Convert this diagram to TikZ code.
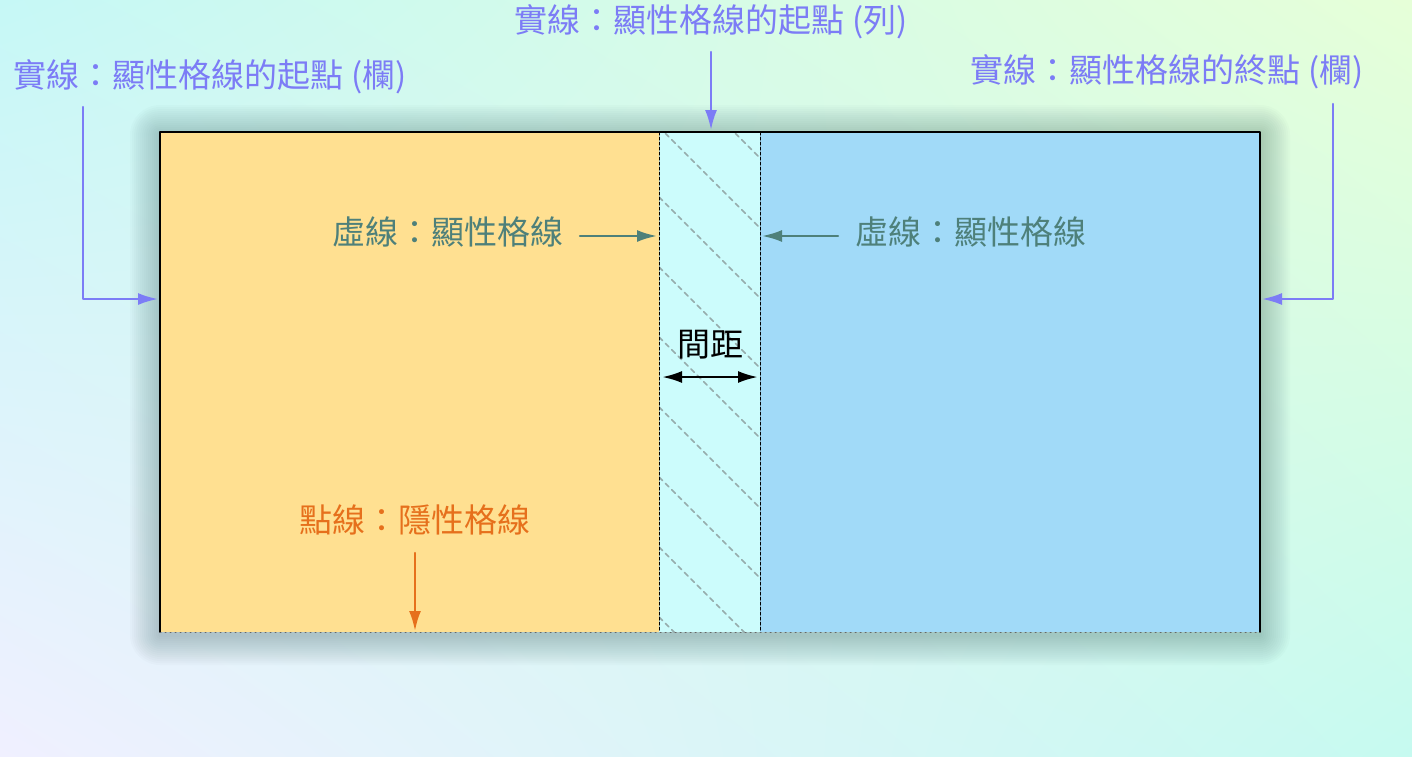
\documentclass[tikz,border=0pt]{standalone}
\usepackage{fontspec}
\setmainfont{Noto Sans CJK TC}
\usetikzlibrary{arrows.meta,shadings}
\definecolor{solidblue}{RGB}{124,124,246}
\definecolor{dashteal}{RGB}{78,128,122}
\definecolor{dotorange}{RGB}{230,112,28}
\definecolor{colyellow}{RGB}{255,224,145}
\definecolor{colblue}{RGB}{161,218,248}
\definecolor{gapcyan}{RGB}{204,252,252}
\definecolor{hatchgray}{RGB}{150,172,172}
\definecolor{shadowgray}{RGB}{40,80,80}
\definecolor{bgtl}{RGB}{198,248,246}
\definecolor{bgtr}{RGB}{230,255,216}
\definecolor{bgbl}{RGB}{240,240,255}
\definecolor{bgbr}{RGB}{198,250,240}
\begin{document}
\begin{tikzpicture}[x=0.5pt,y=-0.5pt,line cap=round,line join=round,
  >={Latex[length=10pt,width=6pt]},
  lbl/.style={inner sep=0pt,font=\fontsize{16.5pt}{20pt}\selectfont},
  solidarrow/.style={solidblue,line width=1.1pt,->},
  dasharrow/.style={dashteal,line width=1.2pt,->},
  hatch/.style={hatchgray,line width=0.75pt,dash pattern=on 2.5pt off 2pt},
  gridline/.style={line width=0.5pt,dash pattern=on 1.5pt off 1pt}]
  \useasboundingbox (0,0) rectangle (1412,756);
  \shade[upper left=bgtl,upper right=bgtr,lower left=bgbl,lower right=bgbr]
    (0,0) rectangle (1412,756);
  % soft shadow
  \foreach \r in {1,...,15}
    \fill[shadowgray,opacity=0.018,rounded corners=\r pt]
      (160-2*\r,132-2*\r+3) rectangle (1260+2*\r,632+2*\r+3);
  % columns and gap
  \fill[colyellow] (160,132) rectangle (659,632);
  \fill[colblue] (760,132) rectangle (1260,632);
  \fill[gapcyan] (659,132) rectangle (760,632);
  \begin{scope}
    \clip (659,132) rectangle (760,632);
    \foreach \k in {-1,...,7}
      \draw[hatch] (659,127+70*\k) -- ++(130,130);
  \end{scope}
  \draw[line width=0.75pt] (160,632) -- (160,132) -- (1260,132) -- (1260,632);
  \draw[line width=0.5pt,dotted,black!60] (160,632) -- (1260,632);
  \draw[gridline] (659,132) -- (659,632);
  \draw[gridline] (760,132) -- (760,632);
  % labels
  \node[lbl,text=solidblue] (rowstart) at (711,22) {實線：顯性格線的起點 (列)};
  \node[lbl,text=solidblue] (colstart) at (210,77) {實線：顯性格線的起點 (欄)};
  \node[lbl,text=solidblue] (colend) at (1167,72) {實線：顯性格線的終點 (欄)};
  \node[lbl,text=dashteal] (dashleft) at (448,232) {虛線：顯性格線};
  \node[lbl,text=dashteal] (dashright) at (971,232) {虛線：顯性格線};
  \node[lbl] (gapsize) at (710,345) {間距};
  \node[lbl,text=dotorange] (dotline) at (415,520) {點線：隱性格線};
  % arrows
  \coordinate (rowtail) at (711,52);
  \coordinate (rowhead) at (711,130);
  \coordinate (cstail) at (83,107);
  \coordinate (cshead) at (158,299);
  \coordinate (cetail) at (1333,104);
  \coordinate (cehead) at (1262,299);
  \coordinate (dltail) at (580,236);
  \coordinate (dlhead) at (657,236);
  \coordinate (drtail) at (838,236);
  \coordinate (drhead) at (762,236);
  \coordinate (gapl) at (662,377);
  \coordinate (gapr) at (758,377);
  \coordinate (dottail) at (415,553);
  \coordinate (dothead) at (415,631);
  \draw[solidarrow] (rowtail) -- (rowhead);
  \draw[solidarrow] (cstail) |- (cshead);
  \draw[solidarrow] (cetail) |- (cehead);
  \draw[dasharrow] (dltail) -- (dlhead);
  \draw[dasharrow] (drtail) -- (drhead);
  \draw[line width=1.3pt,<->] (gapl) -- (gapr);
  \draw[dotorange,line width=1.2pt,->] (dottail) -- (dothead);
\end{tikzpicture}
\end{document}
